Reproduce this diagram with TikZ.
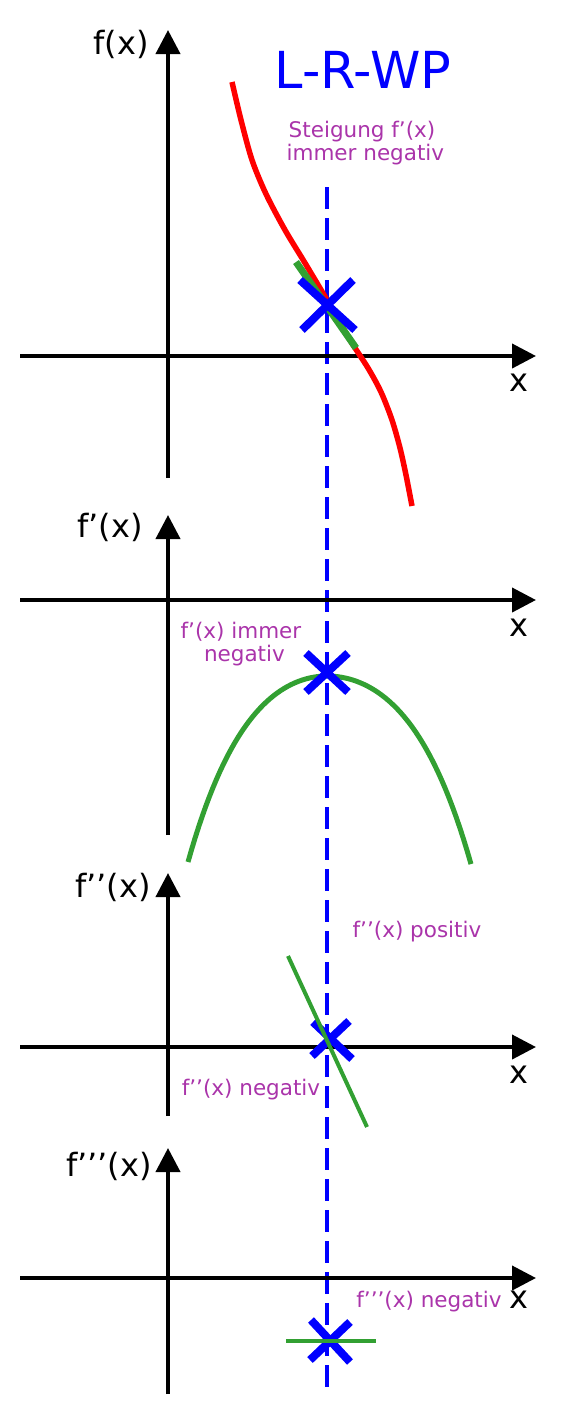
\documentclass[tikz,border=0pt]{standalone}
\usepackage{fontspec}
\setmainfont{DejaVu Sans}
\usetikzlibrary{arrows.meta}
\definecolor{pur}{RGB}{170,52,170}
\definecolor{grn}{RGB}{50,160,50}
\definecolor{blu}{RGB}{0,0,255}
\tikzset{
  axis/.style={line width=4pt,-{Triangle[length=24pt,width=24pt]}},
  lab/.style={font=\fontsize{32}{34}\selectfont,inner sep=0pt},
  note/.style={font=\fontsize{21.5}{23}\selectfont,text=pur,inner sep=0pt,align=center},
  cross/.style={line width=8pt,draw=blu},
  vdash/.style={line width=4.5pt,draw=blu,dash pattern=on 22pt off 9pt},
}
\begin{document}
\begin{tikzpicture}[x=1pt,y=-1pt]
\useasboundingbox (0,0) rectangle (562,1422);
% ---- coordinates for axes
\coordinate (a1b) at (168,478); \coordinate (a1t) at (168,30);
\coordinate (a1l) at (20,356);  \coordinate (a1r) at (536,356);
\coordinate (a2b) at (168,835); \coordinate (a2t) at (168,515);
\coordinate (a2l) at (20,600);  \coordinate (a2r) at (536,600);
\coordinate (a3b) at (168,1116); \coordinate (a3t) at (168,873);
\coordinate (a3l) at (20,1047); \coordinate (a3r) at (536,1047);
\coordinate (a4b) at (168,1394); \coordinate (a4t) at (168,1148);
\coordinate (a4l) at (20,1278); \coordinate (a4r) at (536,1278);
% ---- dashed vertical
\coordinate (vt) at (327,187); \coordinate (vb) at (327,1395);
\draw[vdash] (vt) -- (vb);
% ---- axes
\draw[axis] (a1b) -- (a1t);
\draw[axis] (a1l) -- (a1r);
\draw[axis] (a2b) -- (a2t);
\draw[axis] (a2l) -- (a2r);
\draw[axis] (a3b) -- (a3t);
\draw[axis] (a3l) -- (a3r);
\draw[axis] (a4b) -- (a4t);
\draw[axis] (a4l) -- (a4r);
% ---- axis labels
\node[lab,anchor=east] (l1) at (149,44) {f(x)};
\node[lab,anchor=east] (l2) at (143,527) {f’(x)};
\node[lab,anchor=east] (l3) at (151,887) {f’’(x)};
\node[lab,anchor=east] (l4) at (152,1166) {f’’’(x)};
\node[lab] (x1) at (519,383) {x};
\node[lab] (x2) at (519,628) {x};
\node[lab] (x3) at (519,1075) {x};
\node[lab] (x4) at (519,1300) {x};
% ---- title
\node[font=\fontsize{51}{52}\selectfont,text=blu,inner sep=0pt] (title) at (363,70) {L-R-WP};
% ---- notes
\node[note] (n1) at (362,143) {Steigung f’(x)\\ \ immer negativ};
\node[note] (n2) at (241,644) {f’(x) immer\\ \ negativ};
\node[note] (n3) at (417,932) {f’’(x) positiv};
\node[note] (n4) at (251,1090) {f’’(x) negativ};
\node[note] (n5) at (429,1302) {f’’’(x) negativ};
% ---- panel 1: red curve, tangent, cross
\draw[red,line width=5.5pt] plot[smooth,tension=0.5] coordinates {
 (232,82) (241,120) (252,160) (266,194) (285,230) (305,263) (327,300) (350,340)
 (368,368) (381,392) (392,420) (400,448) (406,475) (412,506)};
\coordinate (t1a) at (296,262); \coordinate (t1b) at (356,348);
\draw[grn,line width=7pt] (t1a) -- (t1b);
\coordinate (c1a) at (300,280); \coordinate (c1b) at (355,330);
\coordinate (c1c) at (353,280); \coordinate (c1d) at (302,330);
\draw[cross] (c1a) -- (c1b);
\draw[cross] (c1c) -- (c1d);
% ---- panel 2: parabola, cross
\draw[grn,line width=5pt]
  plot[domain=-139:0,samples=40] ({327+\x},{676+64.45*(\x/100)^2+16.46*(\x/100)^4})
  -- plot[domain=0:144,samples=40] ({327+\x},{676+0.92*(64.45*(\x/100)^2+16.46*(\x/100)^4)});
\coordinate (c2a) at (306,653); \coordinate (c2b) at (348,692);
\coordinate (c2c) at (348,653); \coordinate (c2d) at (306,692);
\draw[cross] (c2a) -- (c2b);
\draw[cross] (c2c) -- (c2d);
% ---- panel 3: line, cross
\coordinate (c3a) at (313,1022); \coordinate (c3b) at (352,1059);
\coordinate (c3c) at (349,1021); \coordinate (c3d) at (312,1056);
\draw[cross] (c3a) -- (c3b);
\draw[cross] (c3c) -- (c3d);
\coordinate (g3a) at (288,956); \coordinate (g3b) at (367,1127);
\draw[grn,line width=4pt] (g3a) -- (g3b);
% ---- panel 4: horizontal line, cross
\coordinate (c4a) at (311,1320); \coordinate (c4b) at (350,1362);
\coordinate (c4c) at (350,1322); \coordinate (c4d) at (310,1360);
\draw[cross] (c4a) -- (c4b);
\draw[cross] (c4c) -- (c4d);
\coordinate (g4a) at (286,1341); \coordinate (g4b) at (376,1341);
\draw[grn,line width=4pt] (g4a) -- (g4b);
\end{tikzpicture}
\end{document}
